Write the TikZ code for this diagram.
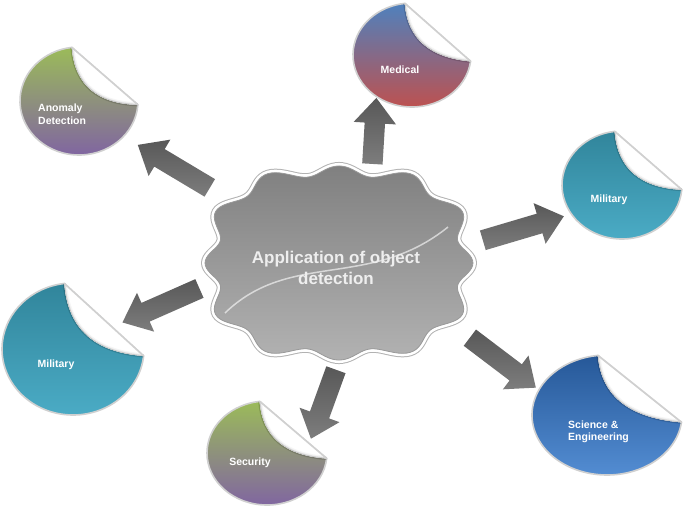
\documentclass[tikz,border=0pt]{standalone}
\usepackage{fontspec}
\setmainfont{Liberation Sans}
\usetikzlibrary{shapes.arrows,calc}
\definecolor{cgreen}{RGB}{155,187,89}
\definecolor{cpurple}{RGB}{128,100,162}
\definecolor{cblue}{RGB}{79,129,189}
\definecolor{cred}{RGB}{192,80,77}
\definecolor{ctealtop}{RGB}{49,133,155}
\definecolor{ctealbot}{RGB}{75,172,198}
\definecolor{cscitop}{RGB}{38,88,152}
\definecolor{cscibot}{RGB}{84,142,212}
\definecolor{rim}{RGB}{208,208,208}
\definecolor{cloudtop}{RGB}{128,128,128}
\definecolor{cloudbot}{RGB}{178,178,178}
\definecolor{arrdark}{RGB}{88,88,88}
\definecolor{arrlight}{RGB}{125,125,125}
\definecolor{titletext}{RGB}{238,238,238}

% sticker: cx cy rx ry topcolor bottomcolor angleOfRightPoint name
\newcommand{\flapcurve}[1]{(#1:1) .. controls (0.33,0.05) and (-0.07,-0.28) .. (263:1)}
\newcommand{\stk}[8]{%
\begin{scope}[shift={(#1,#2)}, xscale=#3, yscale=#4]
  \coordinate (#8) at (0,0);
  \path[top color=#5, bottom color=#6, draw=rim, line width=1.6pt]
    (#7:1) arc[start angle=#7, end angle=263, radius=1] -- cycle;
  \draw[black, opacity=.15, line width=3pt] \flapcurve{#7};
  \fill[white] (263:1) -- \flapcurve{#7} -- cycle;
  \begin{scope}
    \clip (263:1) -- \flapcurve{#7} -- cycle;
    \draw[black!4, line width=5pt] \flapcurve{#7};
    \draw[black!10, line width=2.6pt] \flapcurve{#7};
    \draw[black!25, line width=1pt] \flapcurve{#7};
  \end{scope}
  \draw[rim, line width=1.6pt, line cap=round] (263:1) -- (#7:1);
\end{scope}}

% block arrow between two named coordinates
\newcommand{\blockarrow}[3]{%
  \path let \p1=($(#2)-(#1)$) in
    node[barrow, rotate={atan2(\y1,\x1)}, minimum height={veclen(\x1,\y1)}]
      (#3) at ($(#1)!0.5!(#2)$) {};}

\newcommand{\cloudp}{plot[variable=\t, domain=0:360, samples=241]
  ({339+127*cf(\t)*cos(\t)}, {263+92*cf(\t)*sin(\t)}) -- cycle}

\begin{document}
\begin{tikzpicture}[x=1pt, y=-1pt,
  declare function={cf(\t)=(1+0.055*cos(12*\t))/(((abs(cos(\t))+0.0001)^2.6+(abs(sin(\t))+0.0001)^2.6)^(0.3846));},
  barrow/.style={single arrow, inner xsep=0pt, inner ysep=10pt, minimum width=42pt,
    single arrow head extend=11pt, single arrow tip angle=80,
    top color=arrdark, bottom color=arrlight, draw=none},
  lbl/.style={text=white, font=\bfseries\fontsize{10.5}{12.5}\selectfont,
    align=left, inner sep=0pt}]
\useasboundingbox (0,0) rectangle (685,509);
\fill[white] (0,0) rectangle (685,509);

% stickers
\stk{79}{101}{59}{54}{cgreen}{cpurple}{4}{anomaly}
\stk{412}{55}{59}{52}{cblue}{cred}{7}{medical}
\stk{622}{185}{60}{54}{ctealtop}{ctealbot}{5}{milright}
\stk{73}{349}{71}{66}{ctealtop}{ctealbot}{6}{milleft}
\stk{267}{453}{60}{52}{cgreen}{cpurple}{6}{security}
\stk{607}{415}{75}{60}{cscitop}{cscibot}{7}{science}

% labels
\node[lbl, anchor=west] (lanomaly) at (38,114) {Anomaly\\Detection};
\node[lbl] (lmedical) at (400,70) {Medical};
\node[lbl] (lmilright) at (609,200) {Military};
\node[lbl] (lmilleft) at (56,365) {Military};
\node[lbl] (lsecurity) at (250,463) {Security};
\node[lbl, anchor=west] (lscience) at (568,432) {Science \&\\Engineering};

% arrow end points
\coordinate (s1) at (215,191); \coordinate (t1) at (143,148);
\coordinate (s2) at (372,170); \coordinate (t2) at (376,104);
\coordinate (s3) at (477,242); \coordinate (t3) at (558,218);
\coordinate (s4) at (205,286); \coordinate (t4) at (128,320);
\coordinate (s5) at (338,364); \coordinate (t5) at (313,433);
\coordinate (s6) at (465,334); \coordinate (t6) at (531,384);
\blockarrow{s1}{t1}{a1}
\blockarrow{s2}{t2}{a2}
\blockarrow{s3}{t3}{a3}
\blockarrow{s4}{t4}{a4}
\blockarrow{s5}{t5}{a5}
\blockarrow{s6}{t6}{a6}

% central cloud
\draw[black!30, line width=8pt, line join=round] \cloudp;
\draw[white, line width=6pt, line join=round] \cloudp;
\shade[top color=cloudtop, bottom color=cloudbot] \cloudp;
\draw[black!40, line width=.8pt, line join=round] \cloudp;
\draw[white, opacity=.6, line width=1.5pt]
  (225,313) .. controls (290,250) and (370,290) .. (448,227);
\node[text=titletext, font=\bfseries\fontsize{17}{21}\selectfont, align=center,
  inner sep=0pt] (title) at (336,268) {Application of object\\detection};
\end{tikzpicture}
\end{document}
